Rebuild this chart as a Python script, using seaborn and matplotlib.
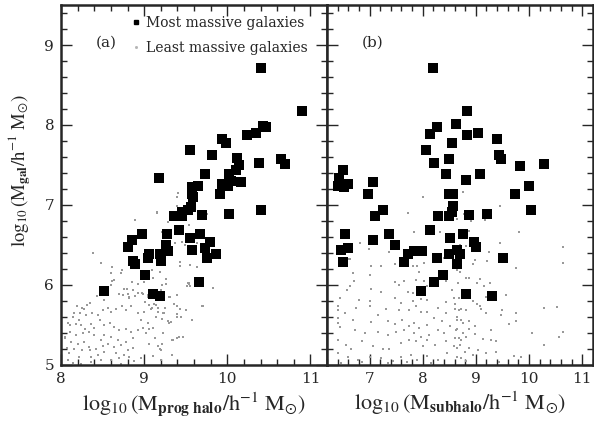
import numpy as np
import seaborn as sns
import matplotlib.pyplot as plt
from matplotlib.lines import Line2D
from matplotlib.ticker import MultipleLocator

# most massive galaxies (big squares), panel (a): prog halo mass vs galaxy mass
big_a_x = [10.40, 10.90, 10.43, 10.47, 10.34, 10.24, 9.94, 9.98, 9.55, 9.82, 10.12, 10.14,
           10.38, 10.65, 10.70, 10.10, 10.02, 9.73, 9.18, 10.04, 10.17, 9.94, 10.01, 9.58,
           9.65, 9.57, 9.91, 9.59, 9.56, 9.46, 9.53, 9.36, 9.45, 9.69, 10.02, 10.41, 8.97,
           9.27, 9.42, 9.67, 8.85, 9.545, 9.79, 8.81, 9.26, 9.29, 9.57, 9.73, 9.06, 9.19,
           9.86, 9.04, 9.20, 9.76, 8.87, 8.89, 9.01, 9.66, 8.51, 9.105, 9.185]
big_a_y = [8.71, 8.175, 7.99, 7.975, 7.90, 7.875, 7.825, 7.775, 7.68, 7.62, 7.58, 7.50,
           7.525, 7.57, 7.505, 7.43, 7.38, 7.38, 7.33, 7.30, 7.29, 7.255, 7.24, 7.22,
           7.23, 7.14, 7.14, 7.10, 6.975, 6.91, 6.93, 6.86, 6.86, 6.875, 6.88, 6.93, 6.64,
           6.63, 6.68, 6.64, 6.56, 6.58, 6.53, 6.47, 6.50, 6.42, 6.44, 6.455, 6.39, 6.38,
           6.39, 6.33, 6.30, 6.33, 6.30, 6.255, 6.12, 6.03, 5.925, 5.88, 5.86]

# panel (b): subhalo mass vs galaxy mass
big_b_x = [8.19, 8.83, 8.26, 8.62, 8.13, 8.84, 9.04, 8.55, 9.39, 8.06, 8.50, 9.43, 9.48,
           8.22, 9.83, 10.28, 6.50, 8.44, 9.08, 6.42, 7.07, 8.81, 6.41, 6.52, 6.60, 10.0,
           6.98, 8.49, 8.57, 9.74, 8.57, 7.11, 7.25, 8.28, 8.49, 8.56, 8.87, 9.21, 10.03,
           6.53, 7.37, 8.14, 8.75, 7.06, 8.51, 8.96, 9.01, 6.47, 6.60, 7.48, 7.73, 7.83,
           7.98, 8.49, 8.64, 8.70, 6.50, 7.64, 8.26, 9.52, 8.65, 8.39, 8.21, 7.96, 8.81, 9.30]
big_b_y = [8.71, 8.175, 7.975, 8.01, 7.88, 7.875, 7.90, 7.775, 7.82, 7.68, 7.575, 7.62, 7.57,
           7.525, 7.49, 7.505, 7.43, 7.38, 7.38, 7.33, 7.29, 7.31, 7.23, 7.225, 7.255, 7.23,
           7.13, 7.13, 7.13, 7.14, 6.98, 6.86, 6.93, 6.86, 6.86, 6.91, 6.875, 6.88, 6.93,
           6.64, 6.63, 6.68, 6.64, 6.56, 6.58, 6.53, 6.475, 6.43, 6.46, 6.50, 6.39, 6.42,
           6.42, 6.39, 6.43, 6.38, 6.29, 6.28, 6.33, 6.33, 6.255, 6.12, 6.03, 5.92, 5.88, 5.86]

# least massive galaxies (tiny dots), panel (a)
small_a = [
    (8.60, 6.15), (8.72, 6.15), (8.85, 6.03), (8.92, 6.01), (9.00, 6.03), (9.10, 6.08),
    (8.60, 5.99), (8.61, 6.05), (8.76, 5.95), (8.86, 5.93), (8.80, 5.88), (8.89, 5.86),
    (8.99, 5.88), (9.04, 5.84), (9.20, 5.93), (9.26, 6.01), (9.54, 6.01), (9.52, 5.98),
    (8.47, 5.91), (8.43, 5.86), (8.52, 5.81), (8.70, 5.88), (8.75, 5.87), (8.82, 5.83),
    (8.93, 5.89), (9.01, 5.78), (9.06, 5.74), (9.12, 5.76), (9.16, 5.71), (9.24, 5.81),
    (9.36, 5.76), (9.40, 5.87), (8.35, 5.77), (8.31, 5.74), (8.25, 5.71), (8.19, 5.73),
    (8.28, 5.69), (8.23, 5.65), (8.16, 5.64), (8.14, 5.60), (8.22, 5.56), (8.30, 5.62),
    (8.37, 5.65), (8.44, 5.62), (8.50, 5.68), (8.56, 5.71), (8.60, 5.66), (8.66, 5.69),
    (8.73, 5.73), (8.78, 5.68), (8.84, 5.73), (8.92, 5.64), (9.00, 5.66), (9.08, 5.69),
    (9.14, 5.60), (8.96, 5.56), (9.05, 5.52), (9.24, 5.64), (9.32, 5.53), (9.44, 5.60),
    (9.50, 5.68), (8.08, 5.52), (8.11, 5.49), (8.18, 5.51), (8.24, 5.49), (8.29, 5.45),
    (8.36, 5.51), (8.40, 5.46), (8.47, 5.56), (8.52, 5.49), (8.59, 5.52), (8.64, 5.47),
    (8.70, 5.43), (8.78, 5.45), (8.84, 5.41), (8.92, 5.43), (8.98, 5.46), (9.06, 5.44),
    (9.02, 5.39), (8.86, 5.33), (8.78, 5.28), (8.68, 5.31), (8.60, 5.35), (8.52, 5.37),
    (8.48, 5.31), (8.40, 5.37), (8.34, 5.41), (8.26, 5.39), (8.18, 5.37), (8.11, 5.41),
    (8.04, 5.33), (8.12, 5.28), (8.20, 5.26), (8.28, 5.28), (8.34, 5.22), (8.42, 5.20),
    (8.50, 5.23), (8.56, 5.26), (8.64, 5.22), (8.72, 5.24), (8.80, 5.18), (8.86, 5.21),
    (8.52, 5.16), (8.44, 5.12), (8.35, 5.18), (8.25, 5.18), (8.16, 5.19), (8.07, 5.21),
    (8.08, 5.06), (8.22, 5.10), (8.36, 5.10), (8.48, 5.06), (8.60, 5.06), (8.70, 5.08),
    (8.76, 5.12), (8.82, 5.09), (8.88, 5.05), (8.96, 5.08), (9.06, 5.26), (9.16, 5.23),
    (9.20, 5.18), (9.34, 5.31), (9.40, 5.33), (9.20, 5.06), (8.66, 5.14), (8.36, 5.03),
    (8.24, 5.01), (8.14, 5.02), (8.72, 5.01), (8.05, 5.35), (8.10, 5.14),
    (9.39, 6.99), (9.15, 6.91), (9.75, 6.88), (9.29, 6.79), (9.54, 6.75), (9.21, 6.66),
    (9.63, 6.52), (9.37, 6.52), (9.46, 6.53), (9.49, 6.50), (9.43, 6.29), (9.43, 6.23),
    (9.55, 6.25), (9.64, 6.22), (9.19, 6.16), (9.09, 6.19), (9.26, 6.07), (9.10, 6.08),
    (9.21, 6.00), (9.54, 6.02), (9.61, 6.08), (9.55, 5.98), (9.83, 5.96), (9.31, 5.84),
    (9.39, 5.87), (9.14, 5.75), (9.25, 5.71), (9.43, 5.69), (9.71, 5.73), (9.09, 5.71),
    (9.17, 5.66), (9.39, 5.59), (9.21, 5.57), (9.29, 5.54), (9.11, 5.46), (9.23, 5.39),
    (9.42, 5.34), (9.13, 5.33), (9.35, 5.31), (9.21, 5.26), (9.19, 5.19), (9.34, 5.12),
    (9.10, 5.11), (9.41, 7.15), (9.39, 7.10), (9.15, 6.90), (8.89, 6.81), (8.38, 6.40),
    (8.48, 6.27), (8.61, 6.22), (8.73, 6.19), (8.63, 6.06), (8.79, 5.95), (8.82, 5.85),
    (8.97, 5.89), (9.05, 5.87), (9.53, 6.02), (9.39, 5.73), (9.70, 5.73), (9.30, 5.85),
    (9.40, 5.63), (9.23, 5.64), (9.57, 5.56), (9.47, 5.35), (9.30, 5.52),
]

# least massive galaxies, panel (b)
small_b = [
    (7.37, 6.41), (6.63, 6.32), (7.03, 6.23), (7.22, 6.23), (7.47, 6.26), (7.81, 6.23),
    (7.90, 6.23), (8.03, 6.27), (7.93, 6.16), (8.40, 6.33), (6.69, 6.15), (7.00, 6.12),
    (7.47, 6.03), (7.65, 6.05), (7.87, 6.06), (8.03, 6.04), (8.43, 6.04), (6.63, 5.98),
    (7.03, 5.94), (7.22, 5.91), (7.56, 6.00), (7.72, 5.91), (7.81, 5.89), (8.09, 5.98),
    (8.28, 6.00), (8.56, 5.93), (6.44, 5.83), (6.81, 5.81), (7.00, 5.79), (7.47, 5.83),
    (7.59, 5.77), (7.81, 5.79), (7.96, 5.82), (8.09, 5.81), (8.43, 5.78), (8.59, 5.83),
    (6.41, 5.68), (6.53, 5.64), (6.75, 5.71), (7.00, 5.73), (7.31, 5.69), (7.56, 5.68),
    (7.75, 5.68), (7.87, 5.73), (7.96, 5.66), (8.09, 5.66), (8.28, 5.71), (8.43, 5.64),
    (8.68, 5.68), (6.41, 5.58), (6.69, 5.56), (7.03, 5.53), (7.16, 5.62), (7.34, 5.54),
    (7.47, 5.51), (7.62, 5.56), (7.75, 5.48), (7.84, 5.52), (7.93, 5.46), (8.09, 5.50),
    (8.21, 5.58), (8.37, 5.54), (8.52, 5.48), (8.65, 5.56), (6.44, 5.47), (6.72, 5.43),
    (6.91, 5.39), (7.16, 5.41), (7.34, 5.37), (7.50, 5.41), (7.65, 5.43), (7.84, 5.39),
    (7.96, 5.34), (8.12, 5.37), (8.28, 5.43), (8.40, 5.39), (8.62, 5.43), (6.56, 5.25),
    (6.66, 5.20), (6.85, 5.29), (7.06, 5.23), (7.25, 5.19), (7.37, 5.20), (7.59, 5.27),
    (7.75, 5.31), (7.87, 5.29), (8.00, 5.23), (8.09, 5.31), (8.24, 5.25), (8.43, 5.29),
    (8.59, 5.23), (8.68, 5.33), (6.41, 5.14), (6.60, 5.09), (6.78, 5.06), (7.00, 5.10),
    (7.22, 5.08), (7.44, 5.04), (7.59, 5.10), (7.78, 5.12), (7.90, 5.06), (8.09, 5.11),
    (8.28, 5.06), (8.46, 5.14), (8.65, 5.09), (6.47, 5.02), (6.85, 5.03), (7.34, 5.02),
    (7.71, 5.03), (8.15, 5.02),
    (8.75, 7.16), (9.46, 6.98), (8.65, 6.82), (8.77, 6.88), (8.91, 6.80), (9.18, 6.81),
    (9.82, 6.66), (8.88, 6.67), (9.46, 6.52), (8.81, 6.48), (8.70, 6.50), (9.24, 6.41),
    (10.64, 6.47), (8.98, 6.31), (9.21, 6.30), (8.95, 6.26), (9.75, 6.21), (10.63, 6.27),
    (8.65, 6.19), (8.71, 6.16), (8.81, 6.08), (8.87, 6.08), (9.07, 6.07), (8.67, 6.02),
    (9.02, 6.02), (9.16, 5.98), (9.27, 6.02), (9.57, 5.87), (9.20, 5.85), (8.68, 5.83),
    (8.95, 5.79), (9.02, 5.76), (9.08, 5.73), (8.60, 5.76), (8.73, 5.70), (8.60, 5.70),
    (8.82, 5.68), (9.10, 5.70), (9.20, 5.65), (9.49, 5.68), (9.75, 5.65), (10.28, 5.71),
    (10.53, 5.72), (9.48, 5.62), (8.64, 5.60), (8.73, 5.56), (8.88, 5.54), (8.99, 5.48),
    (8.76, 5.52), (9.63, 5.51), (9.75, 5.54), (8.64, 5.45), (8.76, 5.39), (8.88, 5.44),
    (8.99, 5.38), (9.29, 5.43), (9.13, 5.32), (10.05, 5.39), (10.63, 5.41), (10.56, 5.34),
    (8.60, 5.33), (8.73, 5.31), (8.82, 5.35), (8.70, 5.25), (8.88, 5.21), (9.04, 5.18),
    (9.29, 5.31), (9.38, 5.30), (10.28, 5.25), (8.64, 5.21), (8.79, 5.16), (8.95, 5.12),
    (9.20, 5.14), (9.38, 5.16), (9.72, 5.11), (9.85, 5.09), (8.73, 5.08), (8.82, 5.04),
    (9.44, 5.03), (6.61, 6.32), (6.83, 6.52), (6.99, 6.45), (6.71, 6.04), (6.57, 5.93),
    (7.73, 6.90), (8.01, 7.10), (8.14, 6.66), (8.33, 6.66), (7.83, 6.66), (6.41, 5.73),
    (6.41, 5.52), (6.41, 5.31),
]

small_a_x, small_a_y = np.array(small_a).T
small_b_x, small_b_y = np.array(small_b).T

sns.set_style('ticks')
plt.rcParams.update({'font.family': 'DejaVu Serif', 'mathtext.fontset': 'stix',
                     'font.size': 11})

fig, axes = plt.subplots(1, 2, figsize=(5.94, 4.21), dpi=100, sharey=True,
                         gridspec_kw={'wspace': 0})
fig.subplots_adjust(left=0.103, right=0.998, top=0.988, bottom=0.134)

panels = [(axes[0], small_a_x, small_a_y, big_a_x, big_a_y, (8, 11.2), '(a)',
           r'$\log_{10}(\mathrm{M}_{\mathbf{prog\ halo}}/\mathrm{h}^{-1}\ \mathrm{M}_{\odot})$'),
          (axes[1], small_b_x, small_b_y, big_b_x, big_b_y, (6.2, 11.2), '(b)',
           r'$\log_{10}(\mathrm{M}_{\mathbf{subhalo}}/\mathrm{h}^{-1}\ \mathrm{M}_{\odot})$')]

for ax, sx, sy, bx, by, xlim, tag, xlab in panels:
    sns.scatterplot(x=sx, y=sy, ax=ax, marker='s', s=1.2, color='0.6', linewidth=0)
    sns.scatterplot(x=bx, y=by, ax=ax, marker='s', s=55, color='black', linewidth=0)
    ax.set_xlim(*xlim)
    ax.set_ylim(5, 9.5)
    ax.xaxis.set_major_locator(MultipleLocator(1))
    ax.xaxis.set_minor_locator(MultipleLocator(0.2))
    ax.yaxis.set_major_locator(MultipleLocator(1))
    ax.yaxis.set_minor_locator(MultipleLocator(0.2))
    ax.tick_params(which='both', direction='in', top=True, right=True, width=1)
    ax.tick_params(which='major', length=8, labelsize=11, pad=5)
    ax.tick_params(which='minor', length=4)
    for sp in ax.spines.values():
        sp.set_linewidth(1.8)
    ax.set_xlabel(xlab, fontsize=16, labelpad=3)
    ax.text(0.13, 0.885, tag, transform=ax.transAxes, fontsize=11)

axes[0].set_ylabel(r'$\log_{10}(\mathrm{M}_{\mathbf{gal}}/\mathrm{h}^{-1}\ \mathrm{M}_{\odot})$',
                   fontsize=13.5)
axes[0].yaxis.set_label_coords(-0.105, 0.54)
axes[1].tick_params(labelleft=False)

handles = [Line2D([], [], marker='s', ls='', color='black', markersize=3),
           Line2D([], [], marker='s', ls='', color='0.7', markersize=1)]
axes[0].legend(handles, ['Most massive galaxies', 'Least massive galaxies'],
               loc='upper left', bbox_to_anchor=(0.225, 1.0), frameon=False,
               fontsize=10, handlelength=0.6, handletextpad=0.4, labelspacing=0.75,
               borderpad=0.3)

plt.savefig('out.png', dpi=100)
